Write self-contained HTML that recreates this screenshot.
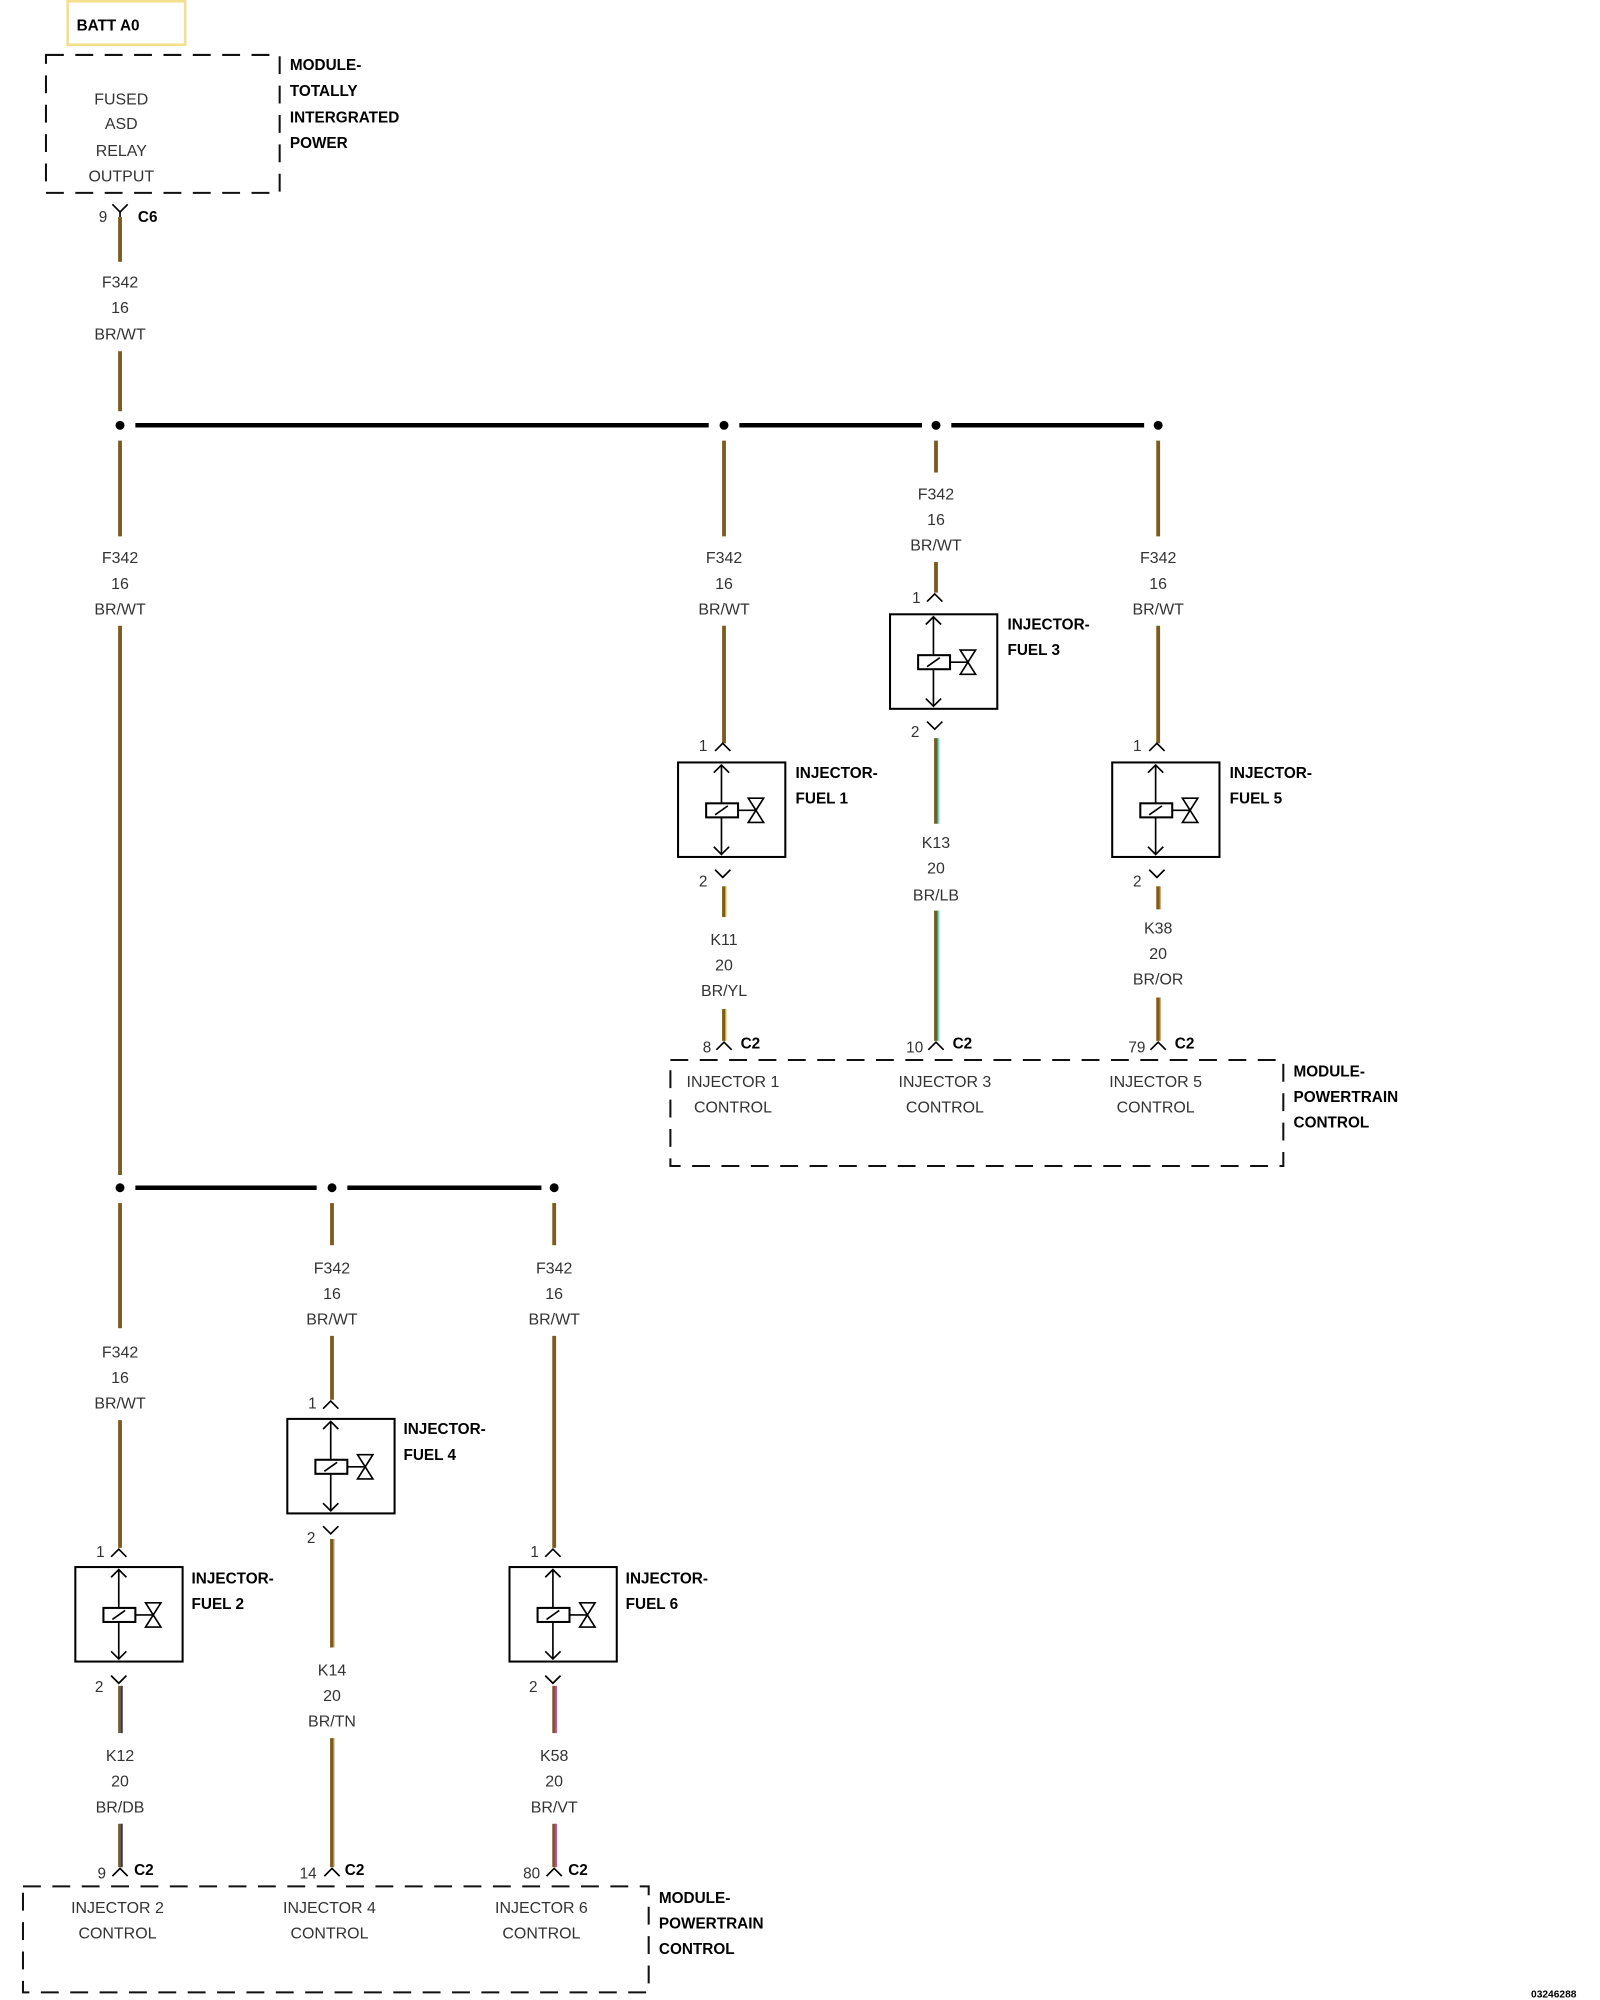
<!DOCTYPE html>
<html><head><meta charset="utf-8"><style>
html,body{margin:0;padding:0;background:#fff;}
svg{display:block}
text{font-family:"Liberation Sans",Arial,sans-serif;}
.t{font-size:12.5px;fill:#333;text-anchor:middle;}
.b{font-size:12px;font-weight:bold;fill:#000;}
.p{font-size:12px;fill:#333;text-anchor:end;}
.w{stroke:#7a5c1e;stroke-width:3;}
.k{stroke:#000;stroke-width:1.3;fill:none;}
.d{stroke:#111;stroke-width:1.6;fill:none;stroke-dasharray:14 9;}
</style></head><body>
<svg width="1600" height="2000" viewBox="0 0 1253 1566" preserveAspectRatio="none" xmlns="http://www.w3.org/2000/svg">
<defs>
<g id="inj">
<rect x="0" y="0" width="84" height="74" fill="#fff" stroke="#000" stroke-width="1.6"/>
<line x1="34" y1="2" x2="34" y2="72" class="k"/>
<polyline points="28,8 34,2 40,8" class="k"/>
<polyline points="28,66 34,72 40,66" class="k"/>
<rect x="22" y="32" width="25" height="11" fill="#fff" stroke="#000" stroke-width="1.6"/>
<line x1="29" y1="41" x2="39" y2="34" class="k"/>
<line x1="47" y1="37.5" x2="61" y2="37.5" class="k"/>
<polygon points="55,28 67,28 61,37.5" fill="none" stroke="#000" stroke-width="1.3"/>
<polygon points="55,47 67,47 61,37.5" fill="none" stroke="#000" stroke-width="1.3"/>
</g>
<polyline id="f" points="-6,5 0,-1 6,5" class="k"/>
<polyline id="m" points="-6,-4 0,2 6,-4" class="k"/>
</defs>

<!-- BATT -->
<rect x="53" y="1" width="92" height="34" fill="none" stroke="#f6df8c" stroke-width="2"/>
<text x="60" y="24" class="b">BATT A0</text>
<rect x="36" y="43" width="183" height="108" class="d"/>
<text x="95" y="82" class="t">FUSED</text>
<text x="95" y="101" class="t">ASD</text>
<text x="95" y="122" class="t">RELAY</text>
<text x="95" y="142" class="t">OUTPUT</text>
<text x="227" y="55" class="b">MODULE-</text>
<text x="227" y="75" class="b">TOTALLY</text>
<text x="227" y="96" class="b">INTERGRATED</text>
<text x="227" y="116" class="b">POWER</text>
<use href="#m" x="94" y="164"/><line x1="94" y1="166" x2="94" y2="170" class="k"/>
<text x="84" y="174" class="p">9</text><text x="108" y="174" class="b">C6</text>
<line x1="94" y1="170" x2="94" y2="205" class="w"/>
<text x="94" y="225" class="t">F342</text><text x="94" y="245" class="t">16</text><text x="94" y="266" class="t">BR/WT</text>
<line x1="94" y1="275" x2="94" y2="322" class="w"/>

<!-- top bus -->
<line x1="106" y1="333" x2="555" y2="333" stroke="#000" stroke-width="3.5"/>
<line x1="579" y1="333" x2="722" y2="333" stroke="#000" stroke-width="3.5"/>
<line x1="745" y1="333" x2="896" y2="333" stroke="#000" stroke-width="3.5"/>
<circle cx="94" cy="333" r="3.5"/><circle cx="567" cy="333" r="3.5"/><circle cx="733" cy="333" r="3.5"/><circle cx="907" cy="333" r="3.5"/>

<!-- main left trunk -->
<line x1="94" y1="345" x2="94" y2="420" class="w"/>
<text x="94" y="441" class="t">F342</text><text x="94" y="461" class="t">16</text><text x="94" y="481" class="t">BR/WT</text>
<line x1="94" y1="490" x2="94" y2="920" class="w"/>
<circle cx="94" cy="930" r="3.5"/>

<!-- Injector 1 -->
<line x1="567" y1="345" x2="567" y2="420" class="w"/>
<text x="567" y="441" class="t">F342</text><text x="567" y="461" class="t">16</text><text x="567" y="481" class="t">BR/WT</text>
<line x1="567" y1="490" x2="567" y2="582" class="w"/>
<use href="#f" x="566" y="583"/><text x="554" y="588" class="p">1</text>
<use href="#inj" x="531" y="597"/>
<text x="623" y="609" class="b">INJECTOR-</text><text x="623" y="629" class="b">FUEL 1</text>
<use href="#m" x="566" y="685"/><text x="554" y="694" class="p">2</text>
<line x1="567" y1="694" x2="567" y2="718" class="w"/><line x1="568.5" y1="694" x2="568.5" y2="718" stroke="#e8d23a" stroke-width="1"/>
<text x="567" y="740" class="t">K11</text><text x="567" y="760" class="t">20</text><text x="567" y="780" class="t">BR/YL</text>
<line x1="567" y1="790" x2="567" y2="815" class="w"/><line x1="568.5" y1="790" x2="568.5" y2="815" stroke="#e8d23a" stroke-width="1"/>
<use href="#f" x="567" y="817"/><text x="557" y="824" class="p">8</text><text x="580" y="821" class="b">C2</text>

<!-- Injector 3 -->
<line x1="733" y1="345" x2="733" y2="370" class="w"/>
<text x="733" y="391" class="t">F342</text><text x="733" y="411" class="t">16</text><text x="733" y="431" class="t">BR/WT</text>
<line x1="733" y1="440" x2="733" y2="464" class="w"/>
<use href="#f" x="732" y="466"/><text x="721" y="472" class="p">1</text>
<use href="#inj" x="697" y="481"/>
<text x="789" y="493" class="b">INJECTOR-</text><text x="789" y="513" class="b">FUEL 3</text>
<use href="#m" x="732" y="569"/><text x="720" y="577" class="p">2</text>
<line x1="733" y1="578" x2="733" y2="645" class="w"/><line x1="735" y1="578" x2="735" y2="645" stroke="#5fe0d8" stroke-width="1.4"/>
<text x="733" y="664" class="t">K13</text><text x="733" y="684" class="t">20</text><text x="733" y="705" class="t">BR/LB</text>
<line x1="733" y1="713" x2="733" y2="815" class="w"/><line x1="735" y1="713" x2="735" y2="815" stroke="#5fe0d8" stroke-width="1.4"/>
<use href="#f" x="733" y="817"/><text x="723" y="824" class="p">10</text><text x="746" y="821" class="b">C2</text>

<!-- Injector 5 -->
<line x1="907" y1="345" x2="907" y2="420" class="w"/>
<text x="907" y="441" class="t">F342</text><text x="907" y="461" class="t">16</text><text x="907" y="481" class="t">BR/WT</text>
<line x1="907" y1="490" x2="907" y2="582" class="w"/>
<use href="#f" x="906" y="583"/><text x="894" y="588" class="p">1</text>
<use href="#inj" x="871" y="597"/>
<text x="963" y="609" class="b">INJECTOR-</text><text x="963" y="629" class="b">FUEL 5</text>
<use href="#m" x="906" y="685"/><text x="894" y="694" class="p">2</text>
<line x1="907" y1="694" x2="907" y2="712" class="w"/><line x1="908.5" y1="694" x2="908.5" y2="712" stroke="#d98a20" stroke-width="1"/>
<text x="907" y="731" class="t">K38</text><text x="907" y="751" class="t">20</text><text x="907" y="771" class="t">BR/OR</text>
<line x1="907" y1="781" x2="907" y2="815" class="w"/><line x1="908.5" y1="781" x2="908.5" y2="815" stroke="#d98a20" stroke-width="1"/>
<use href="#f" x="907" y="817"/><text x="897" y="824" class="p">79</text><text x="920" y="821" class="b">C2</text>

<rect x="525" y="830" width="480" height="83" class="d"/>
<text x="574" y="851" class="t">INJECTOR 1</text><text x="574" y="871" class="t">CONTROL</text>
<text x="740" y="851" class="t">INJECTOR 3</text><text x="740" y="871" class="t">CONTROL</text>
<text x="905" y="851" class="t">INJECTOR 5</text><text x="905" y="871" class="t">CONTROL</text>
<text x="1013" y="843" class="b">MODULE-</text><text x="1013" y="863" class="b">POWERTRAIN</text><text x="1013" y="883" class="b">CONTROL</text>

<!-- bottom bus -->
<line x1="106" y1="930" x2="248" y2="930" stroke="#000" stroke-width="3.5"/>
<line x1="272" y1="930" x2="424" y2="930" stroke="#000" stroke-width="3.5"/>
<circle cx="260" cy="930" r="3.5"/><circle cx="434" cy="930" r="3.5"/>

<!-- Injector 2 -->
<line x1="94" y1="942" x2="94" y2="1040" class="w"/>
<text x="94" y="1063" class="t">F342</text><text x="94" y="1083" class="t">16</text><text x="94" y="1103" class="t">BR/WT</text>
<line x1="94" y1="1112" x2="94" y2="1212" class="w"/>
<use href="#f" x="93" y="1214"/><text x="82" y="1219" class="p">1</text>
<use href="#inj" x="59" y="1227"/>
<text x="150" y="1240" class="b">INJECTOR-</text><text x="150" y="1260" class="b">FUEL 2</text>
<use href="#m" x="93" y="1316"/><text x="81" y="1325" class="p">2</text>
<line x1="94" y1="1320" x2="94" y2="1357" class="w"/><line x1="95.5" y1="1320" x2="95.5" y2="1357" stroke="#1a2a80" stroke-width="1.2"/>
<text x="94" y="1379" class="t">K12</text><text x="94" y="1399" class="t">20</text><text x="94" y="1419" class="t">BR/DB</text>
<line x1="94" y1="1428" x2="94" y2="1462" class="w"/><line x1="95.5" y1="1428" x2="95.5" y2="1462" stroke="#1a2a80" stroke-width="1.2"/>
<use href="#f" x="94" y="1464"/><text x="83" y="1471" class="p">9</text><text x="105" y="1468" class="b">C2</text>

<!-- Injector 4 -->
<line x1="260" y1="942" x2="260" y2="975" class="w"/>
<text x="260" y="997" class="t">F342</text><text x="260" y="1017" class="t">16</text><text x="260" y="1037" class="t">BR/WT</text>
<line x1="260" y1="1046" x2="260" y2="1096" class="w"/>
<use href="#f" x="259" y="1098"/><text x="248" y="1103" class="p">1</text>
<use href="#inj" x="225" y="1111"/>
<text x="316" y="1123" class="b">INJECTOR-</text><text x="316" y="1143" class="b">FUEL 4</text>
<use href="#m" x="259" y="1199"/><text x="247" y="1208" class="p">2</text>
<line x1="260" y1="1205" x2="260" y2="1290" class="w"/><line x1="261.5" y1="1205" x2="261.5" y2="1290" stroke="#c8a860" stroke-width="1"/>
<text x="260" y="1312" class="t">K14</text><text x="260" y="1332" class="t">20</text><text x="260" y="1352" class="t">BR/TN</text>
<line x1="260" y1="1361" x2="260" y2="1462" class="w"/><line x1="261.5" y1="1361" x2="261.5" y2="1462" stroke="#c8a860" stroke-width="1"/>
<use href="#f" x="260" y="1464"/><text x="248" y="1471" class="p">14</text><text x="270" y="1468" class="b">C2</text>

<!-- Injector 6 -->
<line x1="434" y1="942" x2="434" y2="975" class="w"/>
<text x="434" y="997" class="t">F342</text><text x="434" y="1017" class="t">16</text><text x="434" y="1037" class="t">BR/WT</text>
<line x1="434" y1="1046" x2="434" y2="1212" class="w"/>
<use href="#f" x="433" y="1214"/><text x="422" y="1219" class="p">1</text>
<use href="#inj" x="399" y="1227"/>
<text x="490" y="1240" class="b">INJECTOR-</text><text x="490" y="1260" class="b">FUEL 6</text>
<use href="#m" x="433" y="1316"/><text x="421" y="1325" class="p">2</text>
<line x1="434" y1="1320" x2="434" y2="1357" class="w"/><line x1="435.5" y1="1320" x2="435.5" y2="1357" stroke="#e040c0" stroke-width="1.4"/>
<text x="434" y="1379" class="t">K58</text><text x="434" y="1399" class="t">20</text><text x="434" y="1419" class="t">BR/VT</text>
<line x1="434" y1="1428" x2="434" y2="1462" class="w"/><line x1="435.5" y1="1428" x2="435.5" y2="1462" stroke="#e040c0" stroke-width="1.4"/>
<use href="#f" x="434" y="1464"/><text x="423" y="1471" class="p">80</text><text x="445" y="1468" class="b">C2</text>

<rect x="18" y="1477" width="490" height="83" class="d"/>
<text x="92" y="1498" class="t">INJECTOR 2</text><text x="92" y="1518" class="t">CONTROL</text>
<text x="258" y="1498" class="t">INJECTOR 4</text><text x="258" y="1518" class="t">CONTROL</text>
<text x="424" y="1498" class="t">INJECTOR 6</text><text x="424" y="1518" class="t">CONTROL</text>
<text x="516" y="1490" class="b">MODULE-</text><text x="516" y="1510" class="b">POWERTRAIN</text><text x="516" y="1530" class="b">CONTROL</text>

<text x="1199" y="1564" style="font-size:8px;font-weight:bold">03246288</text>
</svg>
</body></html>
